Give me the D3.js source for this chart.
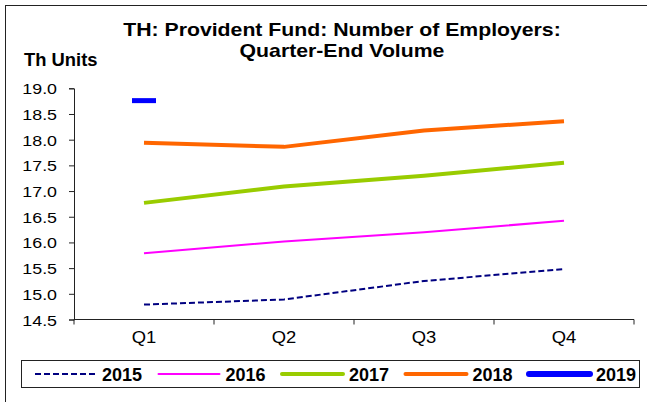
<!DOCTYPE html>
<html>
<head>
<meta charset="utf-8">
<script src="https://cdn.jsdelivr.net/npm/d3@7"></script>
<style>
body { margin: 0; background: #fff; }
text { font-family: "Liberation Sans", Arial, sans-serif; fill: #000; }
</style>
</head>
<body>
<div id="chart"></div>
<script>
var quarters = ["Q1", "Q2", "Q3", "Q4"];
var yTicks = [14.5, 15.0, 15.5, 16.0, 16.5, 17.0, 17.5, 18.0, 18.5, 19.0];
var years = ["2015", "2016", "2017", "2018", "2019"];
var v2015 = [14.79, 14.89, 15.25, 15.48];
var v2016 = [15.79, 16.02, 16.20, 16.42];
var v2017 = [16.77, 17.09, 17.30, 17.55];
var v2018 = [17.94, 17.86, 18.18, 18.36];
var v2019 = [18.76];

var W = 647, H = 402;
var m = { left: 74, right: 634, top: 88.3, bottom: 319.5 };

var svg = d3.select("#chart").append("svg")
  .attr("width", W).attr("height", H);

// outer frame
svg.append("rect")
  .attr("x", 5.5).attr("y", 5.5)
  .attr("width", 660).attr("height", 420)
  .attr("fill", "none").attr("stroke", "#222").attr("stroke-width", 1);

var x = d3.scaleBand().domain(quarters).range([m.left, m.right]);
var y = d3.scaleLinear().domain([14.5, 19.0]).range([m.bottom, m.top]);

// title
var title = svg.append("text")
  .attr("text-anchor", "middle")
  .attr("font-weight", "bold")
  .attr("font-size", 18)
  .attr("transform", "translate(342,36) scale(1.18,1)");
title.append("tspan").attr("x", 0).attr("y", 0).text("TH: Provident Fund: Number of Employers:");
title.append("tspan").attr("x", 0).attr("y", 21).text("Quarter-End Volume");

svg.append("text")
  .attr("font-weight", "bold")
  .attr("font-size", 17.5)
  .attr("transform", "translate(24,66) scale(1.05,1)")
  .text("Th Units");

// y axis
var yAxis = svg.append("g")
  .attr("transform", "translate(" + m.left + ",0)")
  .call(d3.axisLeft(y).tickValues(yTicks).tickFormat(d3.format(".1f")).tickSize(5).tickPadding(0));
yAxis.select(".domain").attr("stroke", "#222");
yAxis.selectAll(".tick line").attr("stroke", "#222");
yAxis.selectAll(".tick text")
  .attr("font-size", 15.5)
  .attr("font-family", "Liberation Sans, Arial, sans-serif")
  .attr("x", null).attr("dy", null)
  .attr("text-anchor", "end")
  .attr("transform", "translate(-17,5.5) scale(1.15,1)");

// x axis
var xg = svg.append("g").attr("transform", "translate(0," + m.bottom + ")");
xg.append("line")
  .attr("x1", m.left).attr("x2", m.right)
  .attr("stroke", "#222");
xg.selectAll(".xt").data(quarters.concat(["end"])).enter().append("line")
  .attr("class", "xt")
  .attr("x1", function (d, i) { return m.left + i * x.bandwidth(); })
  .attr("x2", function (d, i) { return m.left + i * x.bandwidth(); })
  .attr("y1", 0).attr("y2", 5)
  .attr("stroke", "#222");
xg.selectAll(".xl").data(quarters).enter().append("text")
  .attr("class", "xl")
  .attr("text-anchor", "middle")
  .attr("font-size", 16)
  .attr("transform", function (d) { return "translate(" + (x(d) + x.bandwidth() / 2) + ",23) scale(1.15,1)"; })
  .text(function (d) { return d; });

// series
var series = [
  { name: years[0], values: v2015, color: "#000080", width: 2, dash: "6,3" },
  { name: years[1], values: v2016, color: "#FF00FF", width: 2, dash: null },
  { name: years[2], values: v2017, color: "#99CC00", width: 4, dash: null },
  { name: years[3], values: v2018, color: "#FF6600", width: 4, dash: null },
  { name: years[4], values: v2019, color: "#0000FF", width: 5, dash: null }
];

var line = d3.line()
  .x(function (d, i) { return x(quarters[i]) + x.bandwidth() / 2; })
  .y(function (d) { return y(d); });

series.forEach(function (s) {
  if (s.values.length > 1) {
    svg.append("path")
      .attr("d", line(s.values))
      .attr("fill", "none")
      .attr("stroke", s.color)
      .attr("stroke-width", s.width)
      .attr("stroke-dasharray", s.dash)
      .attr("stroke-linejoin", "round");
  } else {
    // single point drawn as a dash marker
    var cx = x(quarters[0]) + x.bandwidth() / 2;
    svg.append("line")
      .attr("x1", cx - 12).attr("x2", cx + 12)
      .attr("y1", y(s.values[0])).attr("y2", y(s.values[0]))
      .attr("stroke", s.color)
      .attr("stroke-width", s.width);
  }
});

// legend
svg.append("rect")
  .attr("x", 21.5).attr("y", 360.5)
  .attr("width", 618).attr("height", 27)
  .attr("fill", "#fff").attr("stroke", "#222");

var lg = svg.selectAll(".lg").data(series).enter().append("g")
  .attr("class", "lg")
  .attr("transform", function (d, i) { return "translate(" + (35 + i * 123.5) + ",374)"; });
lg.append("line")
  .attr("x1", 0).attr("x2", 61)
  .attr("stroke", function (d) { return d.color; })
  .attr("stroke-width", function (d) { return d.name === "2019" ? 6 : d.width; })
  .attr("stroke-linecap", function (d) { return d.dash ? "butt" : "round"; })
  .attr("stroke-dasharray", function (d) { return d.dash; });
lg.append("text")
  .attr("x", 67).attr("y", 7)
  .attr("font-weight", "bold")
  .attr("font-size", 18)
  .attr("textLength", null)
  .text(function (d) { return d.name; });
</script>
</body>
</html>
